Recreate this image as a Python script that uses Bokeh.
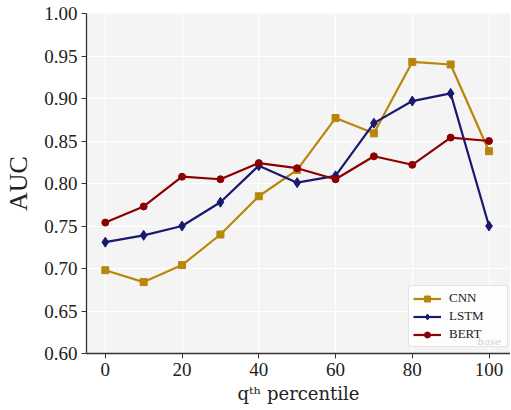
from bokeh.plotting import figure
from bokeh.models import Range1d, Legend, LegendItem, Label, FixedTicker, CustomJSTickFormatter
from bokeh.embed import file_html
from bokeh.resources import INLINE

percentiles = [0, 10, 20, 30, 40, 50, 60, 70, 80, 90, 100]
cnn = [0.698, 0.684, 0.704, 0.740, 0.785, 0.816, 0.877, 0.859, 0.943, 0.940, 0.838]
lstm = [0.731, 0.739, 0.750, 0.778, 0.821, 0.801, 0.809, 0.871, 0.897, 0.906, 0.750]
bert = [0.754, 0.773, 0.808, 0.805, 0.824, 0.818, 0.805, 0.832, 0.822, 0.854, 0.850]
x_ticks = [0, 20, 40, 60, 80, 100]
y_ticks = [0.60, 0.65, 0.70, 0.75, 0.80, 0.85, 0.90, 0.95, 1.00]

FONT = "Liberation Serif"
C_CNN = "#b8860b"
C_LSTM = "#191970"
C_BERT = "#8b0000"

p = figure(width=510, height=409, output_backend="svg", toolbar_location=None,
           x_range=Range1d(-4.9, 105.6), y_range=Range1d(0.60, 1.00),
           min_border_left=86, min_border_right=0, min_border_top=13, min_border_bottom=56)
p.background_fill_color = "#f4f4f4"
p.border_fill_color = "white"
p.outline_line_color = None

for ax in (p.xaxis[0], p.yaxis[0]):
    ax.axis_line_color = "#333333"
    ax.axis_line_width = 1.3
    ax.major_tick_line_color = "#333333"
    ax.major_tick_out = 5
    ax.major_tick_in = 0
    ax.minor_tick_line_color = None
    ax.major_label_text_font = FONT
    ax.major_label_text_font_size = "19px"
    ax.major_label_text_color = "#222222"
    ax.axis_label_text_font = FONT
    ax.axis_label_text_font_style = "normal"
    ax.axis_label_text_color = "#222222"
p.xaxis.ticker = FixedTicker(ticks=x_ticks)
p.yaxis.ticker = FixedTicker(ticks=y_ticks)
p.yaxis.formatter = CustomJSTickFormatter(code="return tick.toFixed(2);")
p.xaxis.major_label_standoff = 4
p.yaxis.major_label_standoff = 4

p.yaxis.axis_label = "AUC"
p.yaxis.axis_label_text_font_size = "26px"
p.yaxis.axis_label_standoff = 8
p.xaxis.axis_label = "q\u1D57\u02B0 percentile"
p.xaxis.axis_label_text_font = "DejaVu Serif"
p.xaxis.axis_label_text_font_size = "18px"
p.xaxis.axis_label_standoff = 4

p.grid.grid_line_color = "white"
p.grid.grid_line_width = 1.2

r1 = p.line(percentiles, cnn, line_color=C_CNN, line_width=2.2)
m1 = p.scatter(percentiles, cnn, marker="square", size=7, color=C_CNN)
r2 = p.line(percentiles, lstm, line_color=C_LSTM, line_width=2.2)
m2 = p.scatter(percentiles, lstm, marker="diamond", size=10, color=C_LSTM)
r3 = p.line(percentiles, bert, line_color=C_BERT, line_width=2.2)
m3 = p.scatter(percentiles, bert, marker="circle", size=7, color=C_BERT)

legend = Legend(items=[
    LegendItem(label="CNN", renderers=[r1, m1]),
    LegendItem(label="LSTM", renderers=[r2, m2]),
    LegendItem(label="BERT", renderers=[r3, m3]),
], location=(322, 6))
legend.label_text_font = FONT
legend.label_text_font_size = "13px"
legend.label_text_color = "#222222"
legend.glyph_width = 28
legend.glyph_height = 15
legend.label_height = 15
legend.label_width = 54
legend.label_standoff = 8
legend.spacing = 2
legend.padding = 4
legend.border_line_color = "#cccccc"
legend.border_line_width = 1
legend.background_fill_color = "white"
legend.background_fill_alpha = 0.8
legend.border_radius = 3
p.add_layout(legend)

sub = Label(x=391, y=12, x_units="screen", y_units="screen", text="base",
            text_font="DejaVu Serif", text_font_style="italic", text_font_size="10px",
            text_color="black", text_alpha=1.0, text_baseline="alphabetic", level="overlay")
p.add_layout(sub)

open("out.html", "w").write(file_html(p, INLINE))
